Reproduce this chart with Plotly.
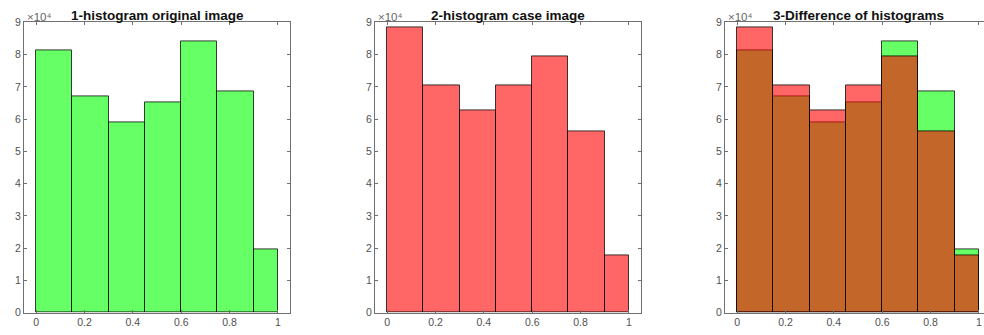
import plotly.graph_objects as go

# Bin edges shared by the three histograms
bin_edges = [0.0, 0.15, 0.30, 0.45, 0.60, 0.75, 0.90, 1.00]

# Pixel counts per bin
original_counts = [81300, 67200, 59100, 65300, 84000, 68700, 19700]
case_counts = [88300, 70600, 62700, 70600, 79400, 56200, 17600]

titles = ["1-histogram original image", "2-histogram case image", "3-Difference of histograms"]
x_ticks = [0, 0.2, 0.4, 0.6, 0.8, 1]
x_tick_labels = ["0", "0.2", "0.4", "0.6", "0.8", "1"]
y_ticks = [i * 10000 for i in range(10)]
y_tick_labels = [str(i) for i in range(10)]

centers = [(a + b) / 2 for a, b in zip(bin_edges[:-1], bin_edges[1:])]
widths = [b - a for a, b in zip(bin_edges[:-1], bin_edges[1:])]

W, H = 984, 335
GREEN = "rgba(0,255,0,0.6)"
RED = "rgba(255,0,0,0.6)"
EDGE = "rgba(0,0,0,0.75)"
AXIS = "#707070"
FAMILY = "Liberation Sans, Arial, sans-serif"
TICKFONT = dict(family=FAMILY, size=10.5, color="#505050")

# panel horizontal extents in pixels (left, right) and the shared vertical extent
panels_px = [(24, 290), (375, 641), (725, 984)]
top_px, bottom_px = 17, 318
ydom = [(H - bottom_px) / H, (H - top_px) / H]

fig = go.Figure()


def hist_trace(counts, color, axis_idx):
    sfx = "" if axis_idx == 1 else str(axis_idx)
    return go.Bar(
        x=centers, y=counts, width=widths,
        marker=dict(color=color, line=dict(color=EDGE, width=1)),
        xaxis="x" + sfx, yaxis="y" + sfx, showlegend=False, hoverinfo="x+y",
    )


fig.add_trace(hist_trace(original_counts, GREEN, 1))
fig.add_trace(hist_trace(case_counts, RED, 2))
fig.add_trace(hist_trace(original_counts, GREEN, 3))
fig.add_trace(hist_trace(case_counts, RED, 3))

layout = dict(
    width=W, height=H,
    margin=dict(l=0, r=0, t=0, b=0),
    paper_bgcolor="white", plot_bgcolor="white",
    barmode="overlay", bargap=0,
    font=TICKFONT,
)

annotations = []
for i, (l, r) in enumerate(panels_px):
    idx = i + 1
    sfx = "" if idx == 1 else str(idx)
    full_w = 266  # pixel width spanning x from -0.05 to 1.05
    x_max = -0.05 + (r - l) / full_w * 1.1
    last = idx == 3
    layout["xaxis" + sfx] = dict(
        domain=[l / W, r / W], range=[-0.05, x_max], anchor="y" + sfx,
        tickvals=x_ticks, ticktext=x_tick_labels, ticks="inside", ticklen=3,
        tickcolor=AXIS, showline=True, linecolor=AXIS, linewidth=1,
        mirror="ticks", showgrid=False, zeroline=False, tickfont=TICKFONT,
    )
    layout["yaxis" + sfx] = dict(
        domain=ydom, range=[0, 90000], anchor="x" + sfx,
        tickvals=y_ticks, ticktext=y_tick_labels, ticks="inside", ticklen=3,
        tickcolor=AXIS, showline=True, linecolor=AXIS, linewidth=1,
        mirror=False if last else "ticks", showgrid=False, zeroline=False,
        tickfont=TICKFONT,
    )
    annotations.append(dict(
        text=titles[i], x=(l + l + full_w) / 2 / W, y=(H - 10) / H,
        xref="paper", yref="paper", xanchor="center", yanchor="middle",
        showarrow=False, font=dict(family=FAMILY, size=13.5, color="#111", weight="bold"),
    ))
    annotations.append(dict(
        text="×10⁴", x=(l + 1) / W, y=(H - 11) / H,
        xref="paper", yref="paper", xanchor="left", yanchor="middle",
        showarrow=False, font=dict(family=FAMILY, size=11.5, color="#666"),
    ))

layout["annotations"] = annotations
fig.update_layout(**layout)
fig.write_html("out.html")
